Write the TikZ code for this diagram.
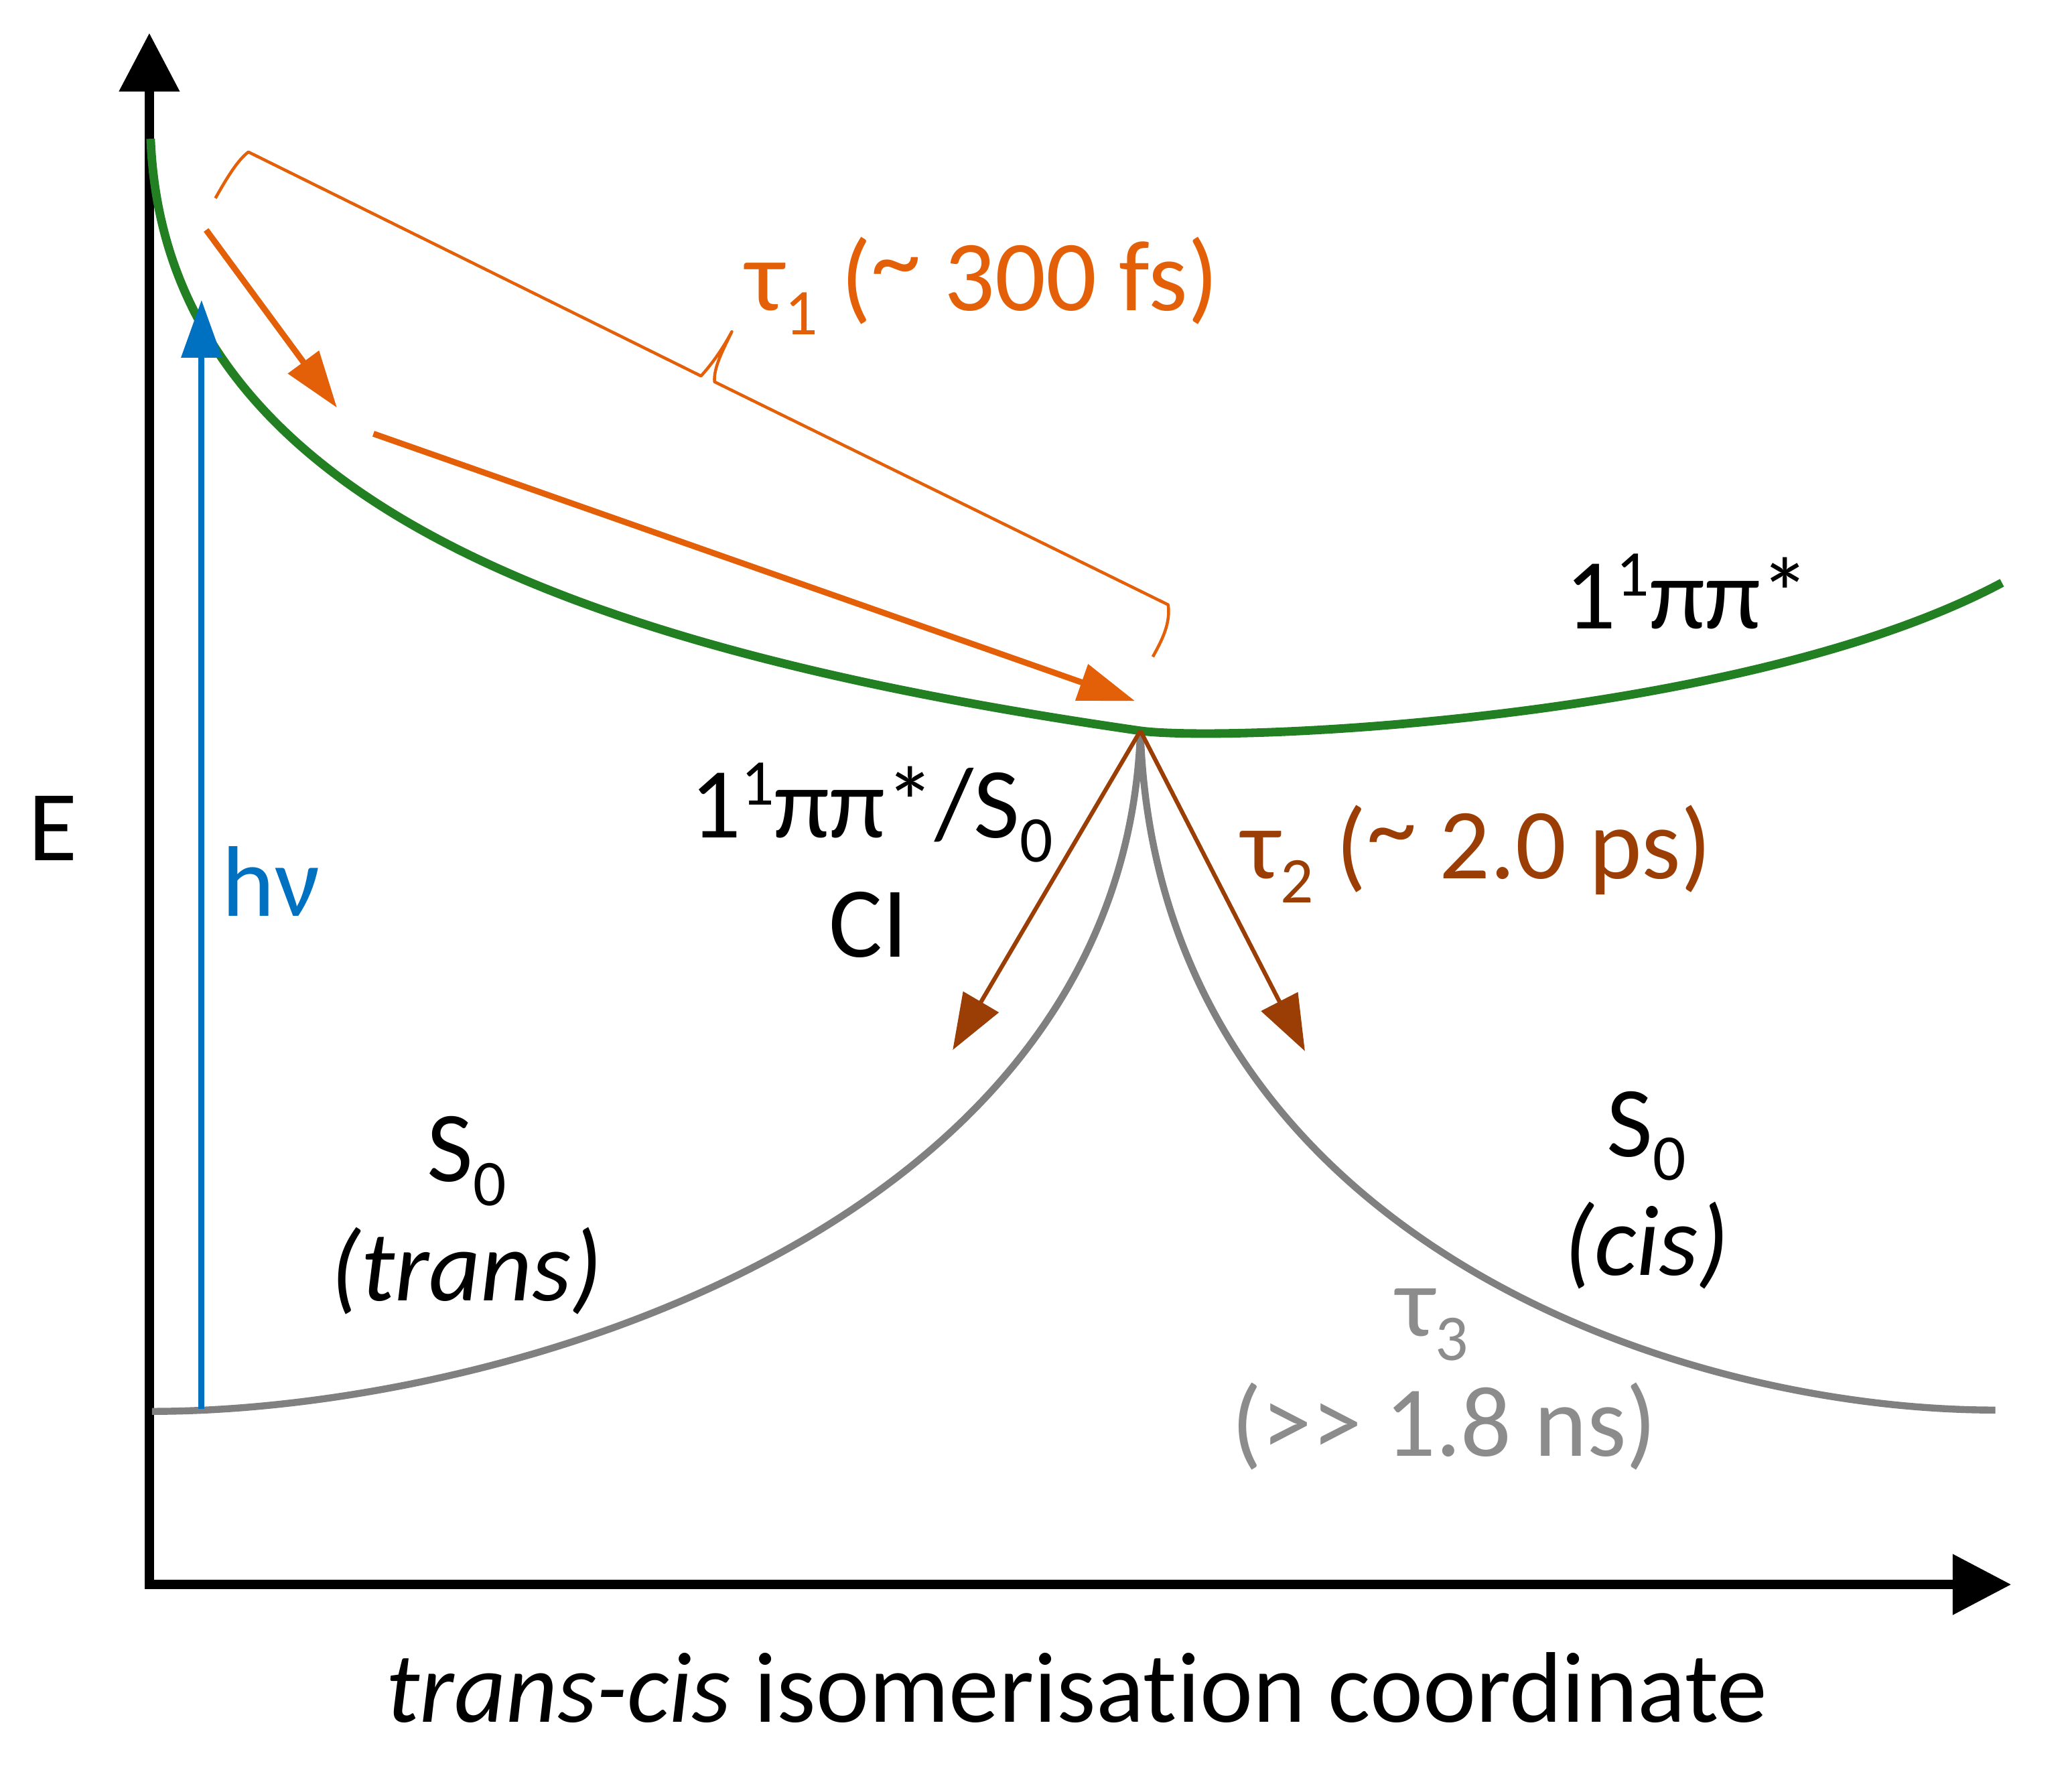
\documentclass[tikz,border=0pt]{standalone}
\usepackage{fontspec}
\setmainfont{Carlito}[Ligatures=NoCommon]
\usepackage{graphicx}
\usetikzlibrary{arrows.meta}
\definecolor{orng}{RGB}{228,96,8}
\definecolor{brwn}{RGB}{155,62,5}
\definecolor{grn}{RGB}{34,128,34}
\definecolor{gry}{RGB}{128,128,128}
\definecolor{gryt}{RGB}{140,140,140}
\definecolor{blu}{RGB}{0,112,192}
\newcommand\mysub[1]{\raisebox{-0.24em}{\scalebox{0.65}{#1}}}
\newcommand\mysup[1]{\raisebox{0.33em}{\scalebox{0.65}{#1}}}
\newcommand\hitilde{\raisebox{0.17em}{\textasciitilde}}
\begin{document}
\begin{tikzpicture}[x=0.01cm, y=-0.01cm,
  font=\fontsize{21.6}{26}\selectfont,
  lbl/.style={inner sep=0pt, anchor=base},
  axisline/.style={line width=2pt, black, line join=miter,
    {Triangle[length=12.6pt,width=12.6pt]}-{Triangle[length=12.6pt,width=12.6pt]}},
  grnline/.style={line width=1.85pt, grn},
  gryline/.style={line width=1.5pt, gry},
  bluarr/.style={line width=1.25pt, blu, -{Triangle[length=12.4pt,width=8.5pt]}},
  orarr/.style={line width=1.3pt, orng, -{Triangle[length=12.2pt,width=8pt]}},
  brarr/.style={line width=0.9pt, brwn, -{Triangle[length=12pt,width=8.7pt]}},
  bracestyle/.style={line width=0.65pt, orng, line join=round}]
\useasboundingbox (0,0) rectangle (1568,1339);

% coordinates
\coordinate (yt) at (113,25);
\coordinate (corner) at (113,1199);
\coordinate (xt) at (1522,1199);
\coordinate (g0) at (114,105);
\coordinate (CI) at (863,553);
\coordinate (g1) at (1515,441);
\coordinate (s0l) at (115,1068);
\coordinate (s0r) at (1510,1067);
\coordinate (hvb) at (152.5,1066);
\coordinate (hvt) at (152.5,227);
\coordinate (o1s) at (156,174);
\coordinate (o1e) at (255,308.5);
\coordinate (o2s) at (282.6,328.2);
\coordinate (o2e) at (859,530.5);
\coordinate (bl) at (721,794.5);
\coordinate (br) at (987.5,795.4);
\coordinate (b1) at (163,150);
\coordinate (b2) at (188,115);
\coordinate (b3) at (530.5,284.5);
\coordinate (bt) at (553.8,251);
\coordinate (b4) at (540.7,288.9);
\coordinate (b5) at (884,457.6);
\coordinate (b6) at (872.4,497);

% axes
\draw[axisline] (yt) -- (corner) -- (xt);

% ground state curves
\draw[gryline] (s0l) .. controls (380,1068) and (850,930) .. (CI);
\draw[gryline] (CI) .. controls (875,930) and (1260,1067) .. (s0r);

% excited state curve
\draw[grnline] (g0) .. controls (125,380) and (440,492) .. (CI)
  .. controls (930,562) and (1320,545) .. (g1);

% excitation
\draw[bluarr] (hvb) -- (hvt);

% relaxation arrows
\draw[orarr] (o1s) -- (o1e);
\draw[orarr] (o2s) -- (o2e);
\draw[brarr] (CI) -- (bl);
\draw[brarr] (CI) -- (br);

% brace
\draw[bracestyle] (b1) .. controls (172,134) and (180,121) .. (b2) -- (b3)
  .. controls (540,274) and (548,262) .. (bt)
  .. controls (547,265) and (540,278) .. (b4) -- (b5)
  .. controls (886,472) and (879,485) .. (b6);

% labels
\node[lbl] (E) at (40,651) {E};
\node[lbl, text=blu] (hv) at (205,693) {hν};
\node[lbl, anchor=base west, text=orng] (t1) at (564,235) {τ\mysub{1} (\hitilde{} 300 fs)};
\node[lbl, anchor=base west] (pp) at (1184,476) {1\mysup{1}ππ*};
\node[lbl] (ci1) at (659.5,634) {1\mysup{1}ππ*/S\mysub{0}};
\node[lbl] (ci2) at (657,724) {CI};
\node[lbl, anchor=base west, text=brwn] (t2) at (939,665) {τ\mysub{2} (\hitilde{} 2.0 ps)};
\node[lbl] (s0a) at (353,894) {S\mysub{0}};
\node[lbl] (s0b) at (353,984) {\itshape (trans)};
\node[lbl] (s0c) at (1246,875) {S\mysub{0}};
\node[lbl] (s0d) at (1246,965) {\itshape (cis)};
\node[lbl, text=gryt] (t3a) at (1084,1011) {τ\mysub{3}};
\node[lbl, text=gryt] (t3b) at (1093,1102) {(>{}> 1.8 ns)};
\node[lbl] (xl) at (815,1303) {\textit{trans-cis} isomerisation coordinate};
\end{tikzpicture}
\end{document}
